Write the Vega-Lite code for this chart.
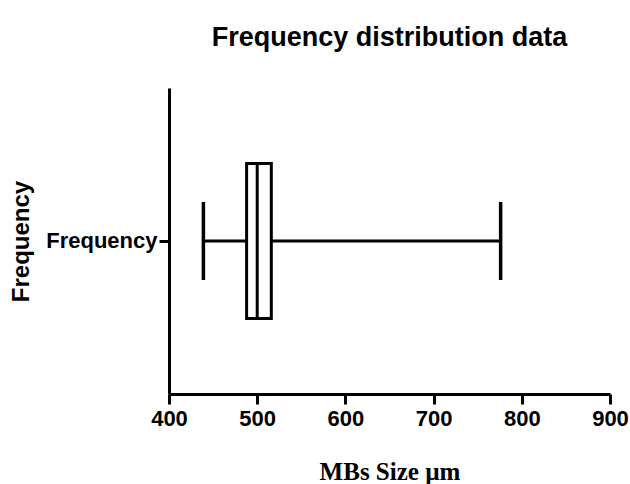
{
  "$schema": "https://vega.github.io/schema/vega-lite/v6.json",
  "autosize": {"type": "none"},
  "padding": {"left": 169, "top": 88, "right": 20, "bottom": 90},
  "width": 441,
  "height": 306,
  "background": "white",
  "title": {
    "text": "Frequency distribution data",
    "font": "Liberation Sans",
    "fontWeight": "bold",
    "fontSize": 27,
    "color": "black",
    "anchor": "middle",
    "offset": 36
  },
  "data": {
    "values": [
      {"label": "Frequency", "min": 439, "q1": 488, "median": 500, "q3": 516, "max": 776}
    ]
  },
  "config": {
    "view": {"stroke": null},
    "axis": {
      "domainColor": "black",
      "domainWidth": 3,
      "tickColor": "black",
      "tickWidth": 3,
      "tickSize": 10,
      "grid": false,
      "labelFont": "Liberation Sans",
      "labelFontWeight": "bold",
      "labelColor": "black",
      "titleColor": "black"
    }
  },
  "encoding": {
    "y": {
      "field": "label",
      "type": "nominal",
      "axis": {
        "title": "Frequency",
        "titleFont": "Liberation Sans",
        "titleFontWeight": "bold",
        "titleFontSize": 24,
        "titlePadding": 12,
        "labelFontSize": 22,
        "labelPadding": 2
      }
    }
  },
  "layer": [
    {
      "mark": {"type": "rule", "color": "black", "strokeWidth": 3},
      "encoding": {
        "x": {
          "field": "min",
          "type": "quantitative",
          "scale": {"domain": [400, 900], "nice": false, "zero": false},
          "axis": {
            "values": [400, 500, 600, 700, 800, 900],
            "title": "MBs Size µm",
            "titleFont": "Liberation Serif",
            "titleFontWeight": "bold",
            "titleFontSize": 25,
            "titlePadding": 30,
            "labelFontSize": 22,
            "labelPadding": 4,
            "labelFlush": false
          }
        },
        "x2": {"field": "max"}
      }
    },
    {
      "mark": {"type": "bar", "fill": "white", "stroke": "black", "strokeWidth": 3, "size": 155},
      "encoding": {
        "x": {"field": "q1", "type": "quantitative"},
        "x2": {"field": "q3"}
      }
    },
    {
      "mark": {"type": "tick", "color": "black", "orient": "vertical", "size": 155, "thickness": 3, "opacity": 1},
      "encoding": {"x": {"field": "median", "type": "quantitative"}}
    },
    {
      "mark": {"type": "tick", "color": "black", "orient": "vertical", "size": 78, "thickness": 3.5, "opacity": 1},
      "encoding": {"x": {"field": "min", "type": "quantitative"}}
    },
    {
      "mark": {"type": "tick", "color": "black", "orient": "vertical", "size": 78, "thickness": 3.5, "opacity": 1},
      "encoding": {"x": {"field": "max", "type": "quantitative"}}
    }
  ]
}
